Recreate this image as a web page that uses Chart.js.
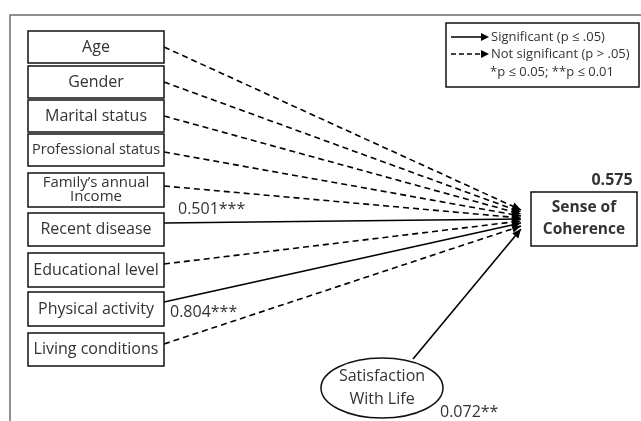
<!DOCTYPE html>
<html>
<head>
<meta charset="utf-8">
<script src="https://cdn.jsdelivr.net/npm/chart.js@4/dist/chart.umd.min.js"></script>
<style>
  html, body { margin: 0; padding: 0; background: #fff; }
  #wrap { width: 641px; height: 421px; }
</style>
</head>
<body>
<div id="wrap"><canvas id="path" width="641" height="421"></canvas></div>
<script>
// data
const predictors = ['Age', 'Gender', 'Marital status', 'Professional status', "Family\u2019s annual\nIncome",
  'Recent disease', 'Educational level', 'Physical activity', 'Living conditions'];
const significant = [false, false, false, false, false, true, false, true, false];
const coefLabels = ['', '', '', '', '', '0.501***', '', '0.804***', ''];
const mediator = 'Satisfaction\nWith Life';
const mediatorCoef = '0.072**';
const outcome = 'Sense of\nCoherence';
const outcomeR2 = '0.575';
const legendLabels = ['Significant (p \u2264 .05)', 'Not significant (p > .05)', '*p \u2264 0.05; **p \u2264 0.01'];

// layout (diagram units = pixels of the 641x421 figure)
const boxTop = [31, 66, 100, 134, 173, 213, 253, 292, 333];
const boxBot = [63, 98, 132, 166, 207, 246, 287, 326, 366];
const boxL = 28, boxR = 164;
const boxFont = [16, 16, 16, 14.5, 15, 16, 16, 16, 16];
const startY = [47, 82, 116, 152, 186, 223, 264, 302, 344];
const endY = [210, 212, 214, 216, 218, 219, 221, 223, 226];
const tipX = 521;
const labelPos = [null, null, null, null, null, [178, 209], null, [170, 312], null];
const ell = { x: 382, y: 388, rx: 61, ry: 30, top: [413, 359], end: [521, 229] };
const outBox = { l: 531, t: 192, r: 637, b: 246 };

const FONT = '"Open Sans", "Liberation Sans", sans-serif';
const TXT = '#333';

const datasets = predictors.map((p, i) => ({
  label: p,
  data: [{ x: boxR, y: startY[i] }, { x: tipX, y: endY[i] }],
  borderColor: '#000',
  borderWidth: 1.6,
  borderDash: significant[i] ? [] : [6, 4],
  pointRadius: 0,
  showLine: true,
  fill: false
}));
datasets.push({
  label: 'mediator',
  data: [{ x: ell.top[0], y: ell.top[1] }, { x: ell.end[0], y: ell.end[1] }],
  borderColor: '#000',
  borderWidth: 1.6,
  borderDash: [],
  pointRadius: 0,
  showLine: true,
  fill: false
});

function arrowHead(ctx, x0, y0, x1, y1, len, half) {
  const a = Math.atan2(y1 - y0, x1 - x0);
  ctx.save();
  ctx.translate(x1, y1);
  ctx.rotate(a);
  ctx.beginPath();
  ctx.moveTo(0, 0);
  ctx.lineTo(-len, -half);
  ctx.lineTo(-len, half);
  ctx.closePath();
  ctx.fillStyle = '#000';
  ctx.fill();
  ctx.restore();
}

function multiline(ctx, text, x, y, lh) {
  const lines = text.split('\n');
  const y0 = y - (lines.length - 1) * lh / 2;
  lines.forEach((l, k) => ctx.fillText(l, x, y0 + k * lh));
}

const diagram = {
  id: 'diagram',
  beforeDatasetsDraw(chart) {
    const ctx = chart.ctx, sx = chart.scales.x, sy = chart.scales.y;
    const X = v => sx.getPixelForValue(v), Y = v => sy.getPixelForValue(v);
    ctx.save();
    // outer frame (top and left only)
    ctx.strokeStyle = '#6d6d6d';
    ctx.lineWidth = 1.5;
    ctx.beginPath();
    ctx.moveTo(X(10), Y(421));
    ctx.lineTo(X(10), Y(15));
    ctx.lineTo(X(641), Y(15));
    ctx.stroke();
    ctx.restore();
  },
  afterDatasetsDraw(chart) {
    const ctx = chart.ctx, sx = chart.scales.x, sy = chart.scales.y;
    const X = v => sx.getPixelForValue(v), Y = v => sy.getPixelForValue(v);
    ctx.save();
    // arrowheads
    chart.data.datasets.forEach((ds, i) => {
      const pts = chart.getDatasetMeta(i).data;
      arrowHead(ctx, pts[0].x, pts[0].y, pts[1].x, pts[1].y, 9, 4);
    });
    // predictor boxes
    ctx.strokeStyle = '#111';
    ctx.lineWidth = 1.5;
    ctx.fillStyle = TXT;
    ctx.textAlign = 'center';
    ctx.textBaseline = 'middle';
    predictors.forEach((p, i) => {
      ctx.strokeRect(X(boxL), Y(boxTop[i]), X(boxR) - X(boxL), Y(boxBot[i]) - Y(boxTop[i]));
      ctx.font = boxFont[i] + 'px ' + FONT;
      const cx = (X(boxL) + X(boxR)) / 2, cy = Y((boxTop[i] + boxBot[i]) / 2);
      if (p.includes('\n')) multiline(ctx, p, cx, cy, 14);
      else ctx.fillText(p, cx, cy);
    });
    // coefficients
    ctx.textAlign = 'left';
    ctx.font = '16px ' + FONT;
    coefLabels.forEach((c, i) => {
      if (c && labelPos[i]) ctx.fillText(c, X(labelPos[i][0]), Y(labelPos[i][1]));
    });
    ctx.fillText(mediatorCoef, X(440), Y(412));
    // outcome box
    ctx.strokeRect(X(outBox.l), Y(outBox.t), X(outBox.r) - X(outBox.l), Y(outBox.b) - Y(outBox.t));
    ctx.textAlign = 'center';
    ctx.font = 'bold 15.5px ' + FONT;
    multiline(ctx, outcome, (X(outBox.l) + X(outBox.r)) / 2, Y((outBox.t + outBox.b) / 2), 22);
    ctx.font = 'bold 16px ' + FONT;
    ctx.fillText(outcomeR2, X(612), Y(180));
    // mediator ellipse
    ctx.beginPath();
    ctx.ellipse(X(ell.x), Y(ell.y), X(ell.x + ell.rx) - X(ell.x), Y(ell.y + ell.ry) - Y(ell.y), 0, 0, Math.PI * 2);
    ctx.fillStyle = '#fff';
    ctx.fill();
    ctx.stroke();
    ctx.fillStyle = TXT;
    ctx.font = '16px ' + FONT;
    multiline(ctx, mediator, X(ell.x), Y(ell.y), 23);
    // legend
    ctx.strokeRect(X(446), Y(23), X(639) - X(446), Y(87) - Y(23));
    ctx.lineWidth = 1.5;
    ctx.strokeStyle = '#000';
    [37, 54].forEach((ly, k) => {
      ctx.setLineDash(k === 0 ? [] : [5, 3]);
      ctx.beginPath();
      ctx.moveTo(X(451), Y(ly));
      ctx.lineTo(X(482), Y(ly));
      ctx.stroke();
      ctx.setLineDash([]);
      arrowHead(ctx, X(451), Y(ly), X(489), Y(ly), 8, 4);
    });
    ctx.textAlign = 'left';
    ctx.font = '13px ' + FONT;
    ctx.fillStyle = TXT;
    ctx.fillText(legendLabels[0], X(491), Y(37));
    ctx.fillText(legendLabels[1], X(491), Y(54));
    ctx.fillText(legendLabels[2], X(490), Y(72));
    ctx.restore();
  }
};

new Chart(document.getElementById('path').getContext('2d'), {
  type: 'scatter',
  data: { datasets },
  options: {
    responsive: false,
    animation: false,
    devicePixelRatio: 1,
    layout: { padding: 0 },
    plugins: { legend: { display: false }, tooltip: { enabled: false }, title: { display: false } },
    scales: {
      x: { type: 'linear', min: 0, max: 641, display: false },
      y: { type: 'linear', min: 0, max: 421, reverse: true, display: false }
    }
  },
  plugins: [diagram]
});
</script>
</body>
</html>
